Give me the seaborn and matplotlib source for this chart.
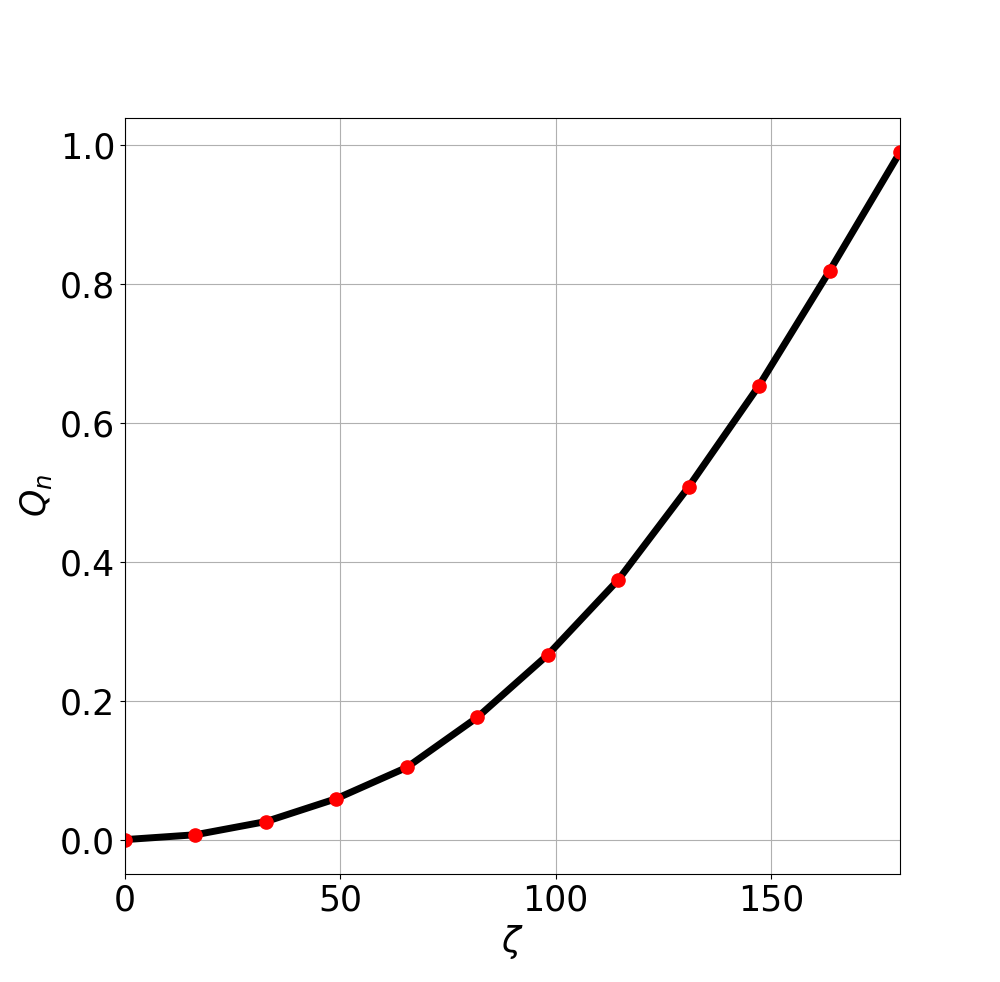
import numpy as np
import seaborn as sns
import matplotlib
matplotlib.use('Agg')
import matplotlib.pyplot as plt

zeta = [0.0, 16.36, 32.73, 49.09, 65.45, 81.82, 98.18, 114.55, 130.91, 147.27, 163.64, 180.0]
q_n = [0.0, 0.007, 0.026, 0.059, 0.104, 0.176, 0.266, 0.374, 0.508, 0.654, 0.819, 0.990]

fig, ax = plt.subplots(figsize=(10, 9.82), dpi=100)
sns.lineplot(x=zeta, y=q_n, ax=ax, color='black', linewidth=5,
             marker='o', markersize=9.5, markeredgewidth=1,
             markerfacecolor='red', markeredgecolor='red')
ax.set_xlim(0, 180)
ax.grid(True)
ax.set_xlabel(r'$\zeta$', fontsize=25)
ax.set_ylabel(r'$Q_n$', fontsize=25)
ax.tick_params(labelsize=25)

plt.savefig('out.png')
